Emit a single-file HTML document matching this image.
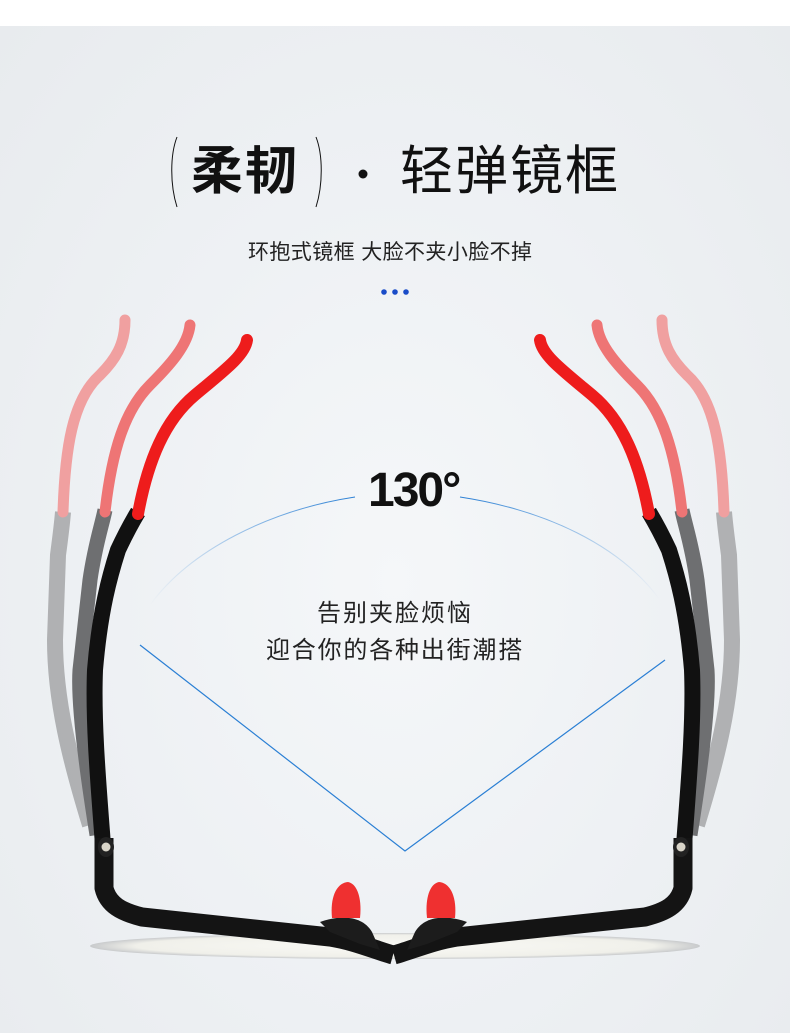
<!DOCTYPE html>
<html><head><meta charset="utf-8"><style>
html,body{margin:0;padding:0}
body{width:790px;height:1033px;position:relative;overflow:hidden;background:#fff;font-family:"Liberation Sans","Noto Sans CJK SC",sans-serif}
.bg{position:absolute;left:0;top:26px;width:790px;height:1007px;background:radial-gradient(ellipse at 50% 55%,#f5f7f9 0%,#eef1f4 50%,#e8ebee 100%)}
.t{position:absolute;white-space:nowrap;color:#111}
</style></head><body>
<div class="bg"></div>
<svg width="790" height="1033" style="position:absolute;left:0;top:0">
<defs>
<linearGradient id="la" x1="0" y1="0" x2="1" y2="0"><stop offset="0" stop-color="#2a7fd4" stop-opacity="0"/><stop offset="1" stop-color="#2a7fd4"/></linearGradient>
<linearGradient id="lb" x1="1" y1="0" x2="0" y2="0"><stop offset="0" stop-color="#2a7fd4" stop-opacity="0"/><stop offset="1" stop-color="#2a7fd4"/></linearGradient>
<radialGradient id="sh" cx="0.5" cy="0.5" r="0.5"><stop offset="0" stop-color="#fafaf6"/><stop offset="0.85" stop-color="#f0f0ea"/><stop offset="1" stop-color="#c8cacc"/></radialGradient>
<g id="side">
 <path d="M90,825 C70,760 55,700 55,640 L58,555 C60,540 62,525 63,512" stroke="#a9aaac" stroke-width="16" fill="none" opacity="0.9"/>
 <path d="M63,512 C65,450 72,400 100,375 C115,360 125,345 125,320" stroke="#f0a0a0" stroke-width="11" fill="none" stroke-linecap="round"/>
 <path d="M97,835 C85,760 78,700 80,670 L90,580 C95,545 102,525 105,510" stroke="#6e6f71" stroke-width="15" fill="none"/>
 <path d="M105,512 C112,450 125,410 150,385 C170,365 188,345 190,325" stroke="#ee7575" stroke-width="11" fill="none" stroke-linecap="round"/>
 <path d="M103,845 C98,780 93,720 95,670 C100,610 110,575 118,550 C125,535 132,522 138,512" stroke="#111" stroke-width="16" fill="none"/>
 <path d="M138,514 C148,460 165,420 195,395 C225,370 245,355 247,340" stroke="#ee1c1c" stroke-width="12" fill="none" stroke-linecap="round"/>
 <path d="M104,838 L104,888 C108,905 122,912 142,917 L330,937 C355,941 375,950 393,955" stroke="#141414" stroke-width="19" fill="none" stroke-linejoin="round"/>
 <ellipse cx="106" cy="847" rx="8" ry="10" fill="#222"/><circle cx="106" cy="847" r="4.5" fill="#d8d4c8"/>
 <path d="M320,922 C340,915 362,915 372,932 L380,950 L360,944 L330,932 Z" fill="#1c1c1c"/>
 <path d="M332,918 C330,898 336,883 348,882 C358,884 362,900 360,918 Z" fill="#ef3030"/>
</g>
</defs>
<ellipse cx="395" cy="946" rx="305" ry="13" fill="url(#sh)"/>
<path d="M355,497 C270,510 190,550 150,605" stroke="url(#la)" stroke-width="1" fill="none"/>
<path d="M460,497 C545,510 620,545 660,600" stroke="url(#lb)" stroke-width="1" fill="none"/>
<path d="M140,645 L405,851 L665,660" stroke="#2a7fd4" stroke-width="1.2" fill="none"/>
<use href="#side"/>
<use href="#side" transform="translate(787,0) scale(-1,1)"/>
<path d="M177,137 C170,155 170,185 177,207" stroke="#111" stroke-width="1" fill="none"/>
<path d="M316,137 C323,155 323,185 316,207" stroke="#111" stroke-width="1" fill="none"/>
<circle cx="363" cy="174" r="4.5" fill="#111"/>
<circle cx="384" cy="292" r="2.8" fill="#1a4cc8"/><circle cx="395" cy="292" r="2.8" fill="#1a4cc8"/><circle cx="406" cy="292" r="2.8" fill="#1a4cc8"/>
</svg>
<div class="t" style="left:191px;top:142px;font-size:52px;font-weight:bold;line-height:60px;letter-spacing:2px">柔韧</div>
<div class="t" style="left:400px;top:142px;font-size:53px;line-height:60px;letter-spacing:2px">轻弹镜框</div>
<div class="t" style="left:248px;top:239px;font-size:21px;line-height:28px;color:#222;letter-spacing:0.4px">环抱式镜框 大脸不夹小脸不掉</div>
<div class="t" style="left:368px;top:463px;font-size:48px;font-weight:bold;line-height:56px;letter-spacing:-2px">130°</div>
<div class="t" style="left:317px;top:599px;font-size:24px;line-height:30px;color:#222;letter-spacing:2px">告别夹脸烦恼</div>
<div class="t" style="left:266px;top:636px;font-size:24px;line-height:30px;color:#222;letter-spacing:1.8px">迎合你的各种出街潮搭</div>
</body></html>
